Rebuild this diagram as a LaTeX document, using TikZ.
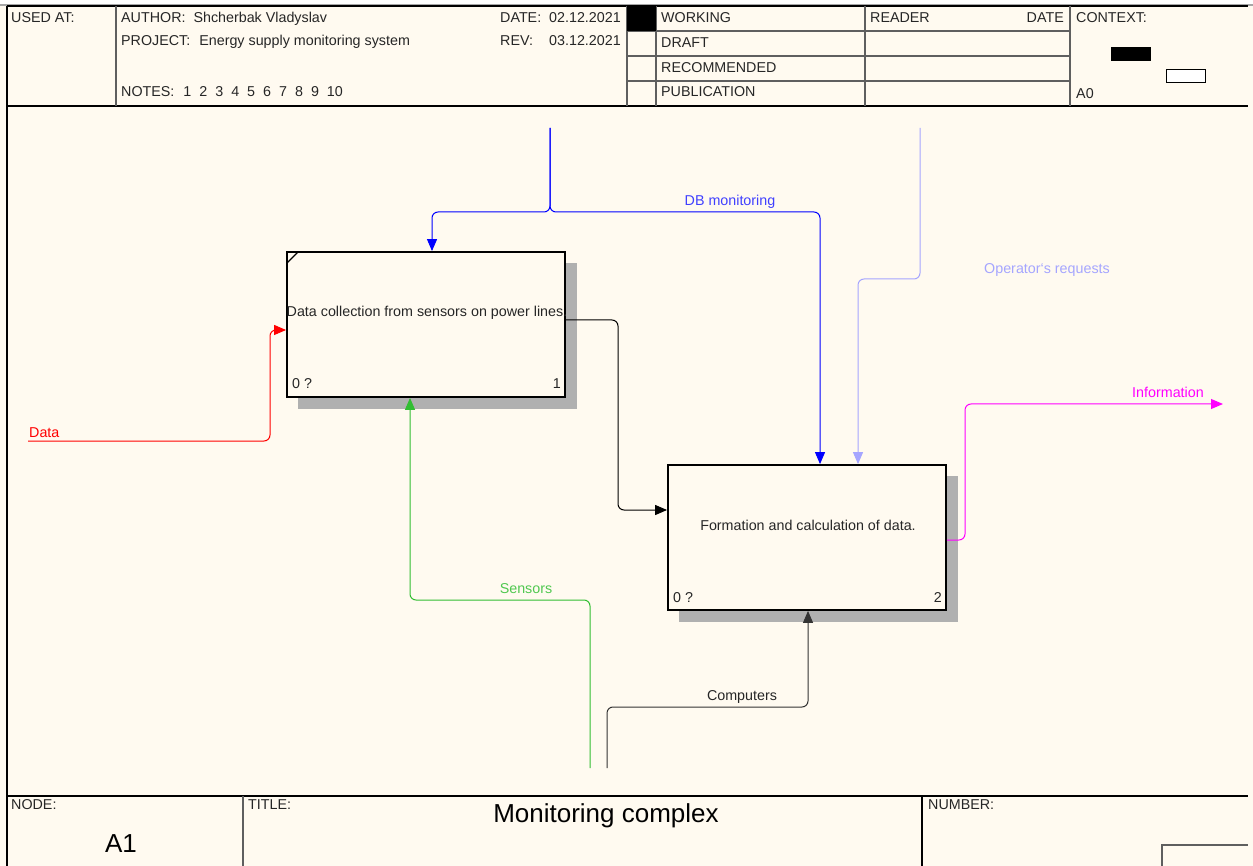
\documentclass[tikz,border=0pt]{standalone}
\usepackage{fontspec}
\setmainfont{Liberation Sans}
\usetikzlibrary{arrows.meta}
\definecolor{paper}{RGB}{255,250,240}
\definecolor{dbblue}{RGB}{0,0,255}
\definecolor{opblue}{RGB}{165,165,255}
\definecolor{sensgreen}{RGB}{50,190,50}
\definecolor{sensgreentext}{RGB}{80,200,80}
\definecolor{infomag}{RGB}{255,0,255}
\definecolor{sheetgray}{RGB}{95,95,95}

\begin{document}
\begin{tikzpicture}[x=1pt,y=-1pt,
  every node/.style={font=\fontsize{14.3}{16}\selectfont, inner sep=0pt, text=black!85},
  lbl/.style={anchor=base west},
  lblc/.style={anchor=base},
  lble/.style={anchor=base east},
  bigtext/.style={font=\fontsize{26}{30}\selectfont, text=black},
  func/.style={draw, line width=1.8pt, fill=paper, minimum width=278pt, minimum height=145pt},
  shadowfill/.style={fill=gray!62},
  link/.style={line width=1pt, rounded corners=6pt, -{Triangle[length=12pt,width=10pt]}},
  sheetline/.style={draw=sheetgray, line width=1.2pt},
  frameline/.style={draw=black, line width=1.6pt},
]

% sheet background
\useasboundingbox (0,0) rectangle (1253,866);
\fill[paper] (0,0) rectangle (1253,866);
\fill[white] (0,0) rectangle (1253,5);
\draw[gray!70, line width=1.5pt] (0,5) -- (1253,5);

% ---------- header block ----------
\draw[frameline] (7,6) -- (1248,6);
\draw[frameline] (7,6) -- (7,866);
\draw[frameline] (7,106) -- (1248,106);
\draw[sheetline] (116,6) -- (116,106);
\draw[sheetline] (627,6) -- (627,106);
\draw[sheetline] (656,6) -- (656,106);
\draw[sheetline] (865,6) -- (865,106);
\draw[sheetline] (1070,6) -- (1070,106);
\foreach \yy in {31,56,81} \draw[sheetline] (627,\yy) -- (1070,\yy);
\fill[black] (627,6) rectangle (656,31);

\node[lbl] (usedat) at (11,23) {USED AT:};
\node[lbl] (author) at (121,23) {AUTHOR:\hspace{8pt}Shcherbak Vladyslav};
\node[lbl] (project) at (121,46) {PROJECT:\hspace{9pt}Energy supply monitoring system};
\node[lbl] (notes) at (121,97) {NOTES:\hspace{9pt}1\hspace{8pt}2\hspace{8pt}3\hspace{8pt}4\hspace{8pt}5\hspace{8pt}6\hspace{8pt}7\hspace{8pt}8\hspace{8pt}9\hspace{8pt}10};
\node[lbl] (datek) at (500,23) {DATE:};
\node[lbl] (datev) at (549,23) {02.12.2021};
\node[lbl] (revk) at (500,46) {REV:};
\node[lbl] (revv) at (549,46) {03.12.2021};
\node[lbl] (working) at (661,23) {WORKING};
\node[lbl] (draft) at (661,48) {DRAFT};
\node[lbl] (recommended) at (661,73) {RECOMMENDED};
\node[lbl] (publication) at (661,97) {PUBLICATION};
\node[lbl] (reader) at (870,23) {READER};
\node[lble] (readerdate) at (1064,23) {DATE};
\node[lbl] (context) at (1076,23) {CONTEXT:};
\node[lbl] (ctxnode) at (1076,99) {A0};
\fill[black] (1111,47) rectangle (1151,61);
\draw[black, line width=1pt, fill=white] (1166,70) rectangle (1205,83);

% ---------- footer block ----------
\draw[frameline] (7,796) -- (1248,796);
\draw[sheetline] (243,796) -- (243,866);
\draw[frameline] (922,796) -- (922,866);
\draw[sheetline] (1162,866) -- (1162,845) -- (1248,845);
\node[lbl] (nodek) at (11,809) {NODE:};
\node[bigtext, anchor=base] (nodev) at (121,852) {A1};
\node[lbl] (titlek) at (248,809) {TITLE:};
\node[bigtext, anchor=base] (titlev) at (606,822) {Monitoring complex};
\node[lbl] (numberk) at (928,809) {NUMBER:};

% ---------- activity boxes ----------
\fill[shadowfill] (298,263) rectangle (577,409);
\node[func] (b1) at (426,324.5) {};
\draw[line width=1.4pt] (287,263) -- (298,252);
\node[lblc] (b1t) at (427,317) {Data collection from sensors on power lines.};
\node[lbl] (b1c) at (292,389) {0 ?};
\node[lble] (b1n) at (561,389) {1};

\fill[shadowfill] (679,476) rectangle (958,622);
\node[func] (b2) at (807,537.5) {};
\node[lblc] (b2t) at (808,530) {Formation and calculation of data.};
\node[lbl] (b2c) at (673,602) {0 ?};
\node[lble] (b2n) at (942,602) {2};

% ---------- free ends of arrows ----------
\coordinate (dbsrc) at (550,128);
\coordinate (opsrc) at (920,128);
\coordinate (datasrc) at (28,441);
\coordinate (senssrc) at (590,768);
\coordinate (compsrc) at (607,768);
\coordinate (infodst) at (1223,404);

% ---------- arrows ----------
% DB monitoring: one source forking to both boxes
\draw[link, dbblue] (dbsrc) -- (550,212) -- (432,212) -- (b1.north -| 432,0);
\draw[link, dbblue] (dbsrc) -- (550,212) -- (820,212) -- (b2.north -| 820,0);
\node[lblc, text=dbblue!75] (dblbl) at (730,206) {DB monitoring};

% Operator`s requests
\draw[link, opblue] (opsrc) -- (920,279) -- (858,279) -- (b2.north -| 858,0);
\node[lblc, text=opblue] (oplbl) at (1047,274) {Operator\char"60 s requests};

% Data input
\draw[link, red] (datasrc) -- (270,441) -- (270,330) -- (b1.west |- 0,330);
\node[lbl, text=red] (datalbl) at (29,437) {Data};

% Box 1 output to box 2 input
\draw[link, black] (b1.east |- 0,320) -- (618,320) -- (618,510) -- (b2.west |- 0,510);

% Sensors mechanism
\draw[link, sensgreen] (senssrc) -- (590,600) -- (410,600) -- (b1.south -| 410,0);
\node[lblc, text=sensgreentext] (senslbl) at (526,593) {Sensors};

% Computers mechanism
\draw[link, black!80] (compsrc) -- (607,707) -- (808,707) -- (b2.south -| 808,0);
\node[lblc] (complbl) at (742,700) {Computers};

% Information output
\draw[link, infomag] (b2.east |- 0,540) -- (965,540) -- (965,404) -- (infodst);
\node[lblc, text=infomag] (infolbl) at (1168,398) {Information};

\end{tikzpicture}
\end{document}
